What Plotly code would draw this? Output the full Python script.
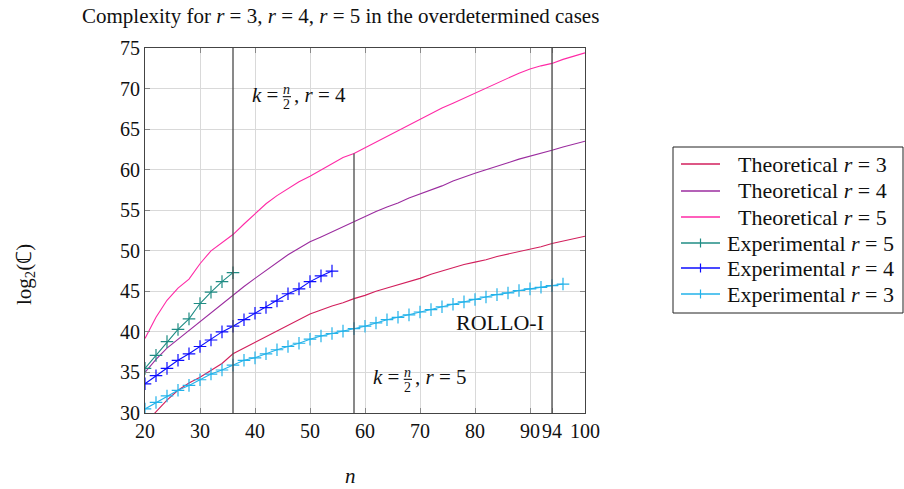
import plotly.graph_objects as go

# ---------------- data ----------------
n_theo = list(range(20, 101, 2))
theo_r3 = [28.7, 30.1, 31.6, 32.8, 33.7, 34.4, 35.2, 36.1, 37.3, 38.0,
           38.6, 39.3, 40.0, 40.8, 41.5, 42.2, 42.7, 43.2, 43.6, 44.1,
           44.5, 45.0, 45.4, 45.8, 46.2, 46.6, 47.1, 47.5, 47.9, 48.3,
           48.6, 48.9, 49.3, 49.6, 49.9, 50.2, 50.5, 50.9, 51.2, 51.5, 51.8]
theo_r4 = [35.0, 36.6, 38.0, 39.1, 40.2, 41.2, 42.3, 43.5, 44.6, 45.6,
           46.6, 47.6, 48.6, 49.5, 50.3, 51.1, 51.7, 52.35, 53.0, 53.6,
           54.2, 54.85, 55.4, 55.9, 56.5, 57.0, 57.5, 58.0, 58.6, 59.1,
           59.55, 60.0, 60.4, 60.85, 61.3, 61.65, 62.0, 62.4, 62.8, 63.15, 63.5]
theo_r5 = [39.2, 41.8, 43.9, 45.4, 46.5, 48.4, 50.0, 51.0, 52.0, 53.3,
           54.6, 55.8, 56.8, 57.7, 58.5, 59.2, 60.0, 60.8, 61.5, 62.0,
           62.7, 63.4, 64.2, 64.9, 65.5, 66.2, 66.9, 67.6, 68.2, 68.8,
           69.5, 70.0, 70.6, 71.3, 71.9, 72.4, 72.8, 73.1, 73.6, 74.0, 74.4]

n_exp_r5 = list(range(20, 37, 2))
exp_r5 = [35.5, 37.1, 38.8, 40.3, 41.6, 43.5, 44.9, 46.2, 47.3]

n_exp_r4 = list(range(20, 55, 2))
exp_r4 = [33.6, 34.6, 35.5, 36.5, 37.3, 38.2, 39.0, 40.0, 40.7, 41.5,
          42.3, 43.0, 43.8, 44.7, 45.3, 46.2, 46.9, 47.5]

n_exp_r3 = list(range(20, 97, 2))
exp_r3 = [30.5, 31.3, 32.1, 32.8, 33.4, 34.1, 34.8, 35.3, 35.9, 36.5,
          36.8, 37.3, 37.8, 38.2, 38.6, 39.1, 39.5, 39.8, 40.1, 40.4,
          40.7, 41.1, 41.5, 41.8, 42.1, 42.45, 42.75, 43.1, 43.4, 43.7,
          44.0, 44.3, 44.6, 44.8, 45.1, 45.3, 45.5, 45.7, 45.9]

x_tickvals = [20, 30, 40, 50, 60, 70, 80, 90, 94, 100]
x_ticktext = ["20", "30", "40", "50", "60", "70", "80", "90", "94", "100"]
y_tickvals = [30, 35, 40, 45, 50, 55, 60, 65, 70, 75]

# vertical reference lines: (x, top)
vlines = [(36, 75), (58, 62.0), (94, 75)]

legend_labels = ["Theoretical <i>r</i> = 3", "Theoretical <i>r</i> = 4",
                 "Theoretical <i>r</i> = 5", "Experimental <i>r</i> = 5",
                 "Experimental <i>r</i> = 4", "Experimental <i>r</i> = 3"]

FONT = "Liberation Serif"
FS_TICK = 20
FS_TXT = 21
FS_LEG = 22
TXT = "#111111"

c_t3 = "#d21f5c"
c_t4 = "#9b2c9f"
c_t5 = "#ff2aa6"
c_e5 = "#1f8c84"
c_e4 = "#0d0dff"
c_e3 = "#22b2ea"
legend_colors = [c_t3, c_t4, c_t5, c_e5, c_e4, c_e3]
legend_marker = [False, False, False, True, True, True]

W, H = 904, 489
ML, MR, MT, MB = 145, 319, 48, 76
PW, PH = W - ML - MR, H - MT - MB

def px_x(px):  # page pixel -> paper x
    return (px - ML) / PW

def px_y(py):  # page pixel -> paper y
    return (H - MB - py) / PH

fig = go.Figure()

def theo(x, y, name, color):
    fig.add_trace(go.Scatter(x=x, y=y, mode="lines", name=name, showlegend=False,
                             line=dict(color=color, width=1.1)))

def expt(x, y, name, color):
    fig.add_trace(go.Scatter(x=x, y=y, mode="lines+markers", name=name, showlegend=False,
                             line=dict(color=color, width=1.1),
                             marker=dict(symbol="cross-thin", size=9,
                                         line=dict(color=color, width=1.2))))

theo(n_theo, theo_r3, "Theoretical r = 3", c_t3)
theo(n_theo, theo_r4, "Theoretical r = 4", c_t4)
theo(n_theo, theo_r5, "Theoretical r = 5", c_t5)
expt(n_exp_r5, exp_r5, "Experimental r = 5", c_e5)
expt(n_exp_r4, exp_r4, "Experimental r = 4", c_e4)
expt(n_exp_r3, exp_r3, "Experimental r = 3", c_e3)

for xv, top in vlines:
    fig.add_shape(type="line", xref="x", yref="y", x0=xv, x1=xv, y0=30, y1=top,
                  line=dict(color="#4a4a4a", width=1.3), layer="above")

def frac_label(x_frac, y_mid, rtxt):
    # "k = n/2, r = ..." with a stacked fraction
    fig.add_annotation(x=x_frac, y=y_mid, xref="x", yref="y", xshift=-7, yshift=2,
                       text="<i>k</i>\u00a0=", showarrow=False, xanchor="right", yanchor="middle",
                       font=dict(family=FONT, size=FS_TXT, color=TXT))
    fig.add_annotation(x=x_frac, y=y_mid, xref="x", yref="y", yshift=7,
                       text="<i>n</i>", showarrow=False, xanchor="center", yanchor="middle",
                       font=dict(family=FONT, size=14, color=TXT))
    fig.add_annotation(x=x_frac, y=y_mid, xref="x", yref="y", yshift=-8,
                       text="2", showarrow=False, xanchor="center", yanchor="middle",
                       font=dict(family=FONT, size=14, color=TXT))
    fig.add_shape(type="line", xref="x", yref="y",
                  x0=x_frac - 0.75, x1=x_frac + 0.75, y0=y_mid, y1=y_mid,
                  line=dict(color=TXT, width=1.1))
    fig.add_annotation(x=x_frac, y=y_mid, xref="x", yref="y", xshift=5, yshift=2,
                       text=",\u00a0<i>r</i>\u00a0=\u00a0" + rtxt, showarrow=False,
                       xanchor="left", yanchor="middle",
                       font=dict(family=FONT, size=FS_TXT, color=TXT))

frac_label(45.8, 69.0, "4")
frac_label(67.8, 34.15, "5")

fig.add_annotation(x=84.5, y=41.2, xref="x", yref="y", text="ROLLO-I",
                   showarrow=False, xanchor="center", yanchor="middle",
                   font=dict(family=FONT, size=22, color=TXT))

# title and axis labels
fig.add_annotation(x=px_x(340), y=px_y(16), xref="paper", yref="paper",
                   text="Complexity for <i>r</i> = 3, <i>r</i> = 4, <i>r</i> = 5 in the overdetermined cases",
                   showarrow=False, xanchor="center", yanchor="middle",
                   font=dict(family=FONT, size=FS_TXT, color=TXT))
fig.add_annotation(x=px_x(25), y=px_y(275), xref="paper", yref="paper",
                   text="log<sub>2</sub>(ℂ)", textangle=-90, showarrow=False,
                   xanchor="center", yanchor="middle",
                   font=dict(family=FONT, size=FS_TXT, color=TXT))
fig.add_annotation(x=px_x(350), y=px_y(488.5), xref="paper", yref="paper",
                   text="<i>n</i>", showarrow=False, xanchor="center", yanchor="bottom",
                   borderpad=0,
                   font=dict(family=FONT, size=FS_TXT, color=TXT))

# legend drawn by hand (pgfplots-style compact rows)
fig.add_shape(type="rect", xref="paper", yref="paper",
              x0=px_x(673), x1=px_x(903), y0=px_y(313), y1=px_y(147),
              line=dict(color="#222222", width=1), fillcolor="white", layer="above")
row_y = [164, 191, 217, 243, 268, 294]
for lab, col, mk, ry in zip(legend_labels, legend_colors, legend_marker, row_y):
    fig.add_shape(type="line", xref="paper", yref="paper",
                  x0=px_x(681), x1=px_x(720), y0=px_y(ry), y1=px_y(ry),
                  line=dict(color=col, width=1.3), layer="above")
    if mk:
        fig.add_shape(type="line", xref="paper", yref="paper",
                      x0=px_x(700.5), x1=px_x(700.5), y0=px_y(ry - 4.5), y1=px_y(ry + 4.5),
                      line=dict(color=col, width=1.2), layer="above")
    fig.add_annotation(x=px_x(725 if mk else 736), y=px_y(ry), xref="paper", yref="paper",
                       text=lab, showarrow=False, xanchor="left", yanchor="middle",
                       font=dict(family=FONT, size=FS_LEG, color=TXT))

axis_common = dict(showgrid=True, gridcolor="#d9d9d9", gridwidth=1,
                   showline=True, linecolor="#444444", linewidth=1.2, mirror="ticks",
                   ticks="inside", ticklen=5, tickcolor="#888888", zeroline=False,
                   tickangle=0,
                   tickfont=dict(family=FONT, size=FS_TICK, color=TXT))

fig.update_xaxes(range=[20, 100], tickvals=x_tickvals, ticktext=x_ticktext, **axis_common)
fig.update_yaxes(range=[30, 75], tickvals=y_tickvals, **axis_common)

fig.update_layout(
    width=W, height=H,
    margin=dict(l=ML, r=MR, t=MT, b=MB),
    plot_bgcolor="white", paper_bgcolor="white",
    showlegend=False,
)

# remove the browser's default 8px body margin so the figure sits at (0, 0)
fig.write_html("out.html", config={"displayModeBar": False},
               post_script="document.body.style.margin='0';")
